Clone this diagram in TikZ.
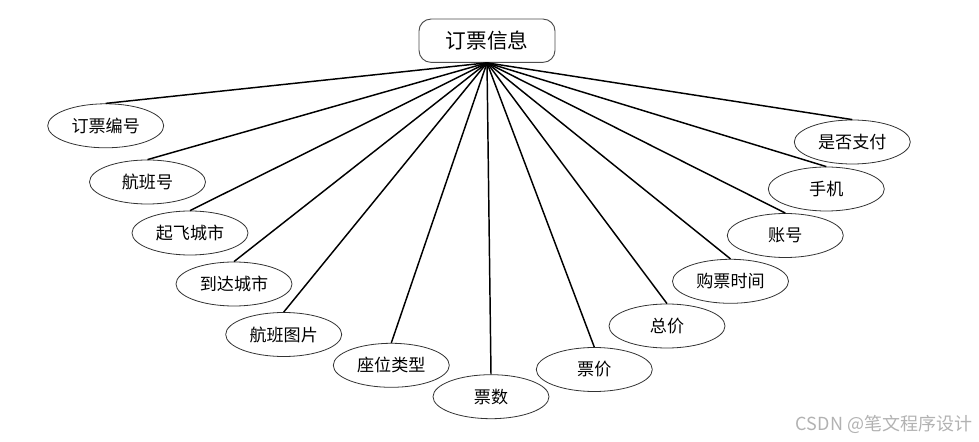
\documentclass[tikz,border=0pt]{standalone}
\usepackage{fontspec}
\setmainfont{Noto Sans CJK SC}
\newfontfamily\cjk{Noto Sans CJK SC}
\newfontfamily\cjkl{Noto Sans CJK SC Light}
\usetikzlibrary{shapes.geometric}
\begin{document}
\begin{tikzpicture}[x=0.75pt,y=-0.75pt,
  attr/.style={ellipse,draw=black!80,line width=0.6pt,fill=white,minimum width=87pt,minimum height=33pt,inner sep=0pt,font=\cjk\fontsize{12.8}{15}\selectfont},
  entity/.style={rectangle,rounded corners=9pt,draw=black!70,line width=0.7pt,fill=white,minimum width=102pt,minimum height=32.5pt,inner sep=0pt,font=\cjk\fontsize{15.5}{18}\selectfont},
  link/.style={line width=1.1pt,black}]
\useasboundingbox (0,0) rectangle (979,442);
\node[entity] (e) at (487,40.7) {订票信息};
\node[attr] (a1) at (105.7,125.8) {订票编号};
\node[attr] (a2) at (147.5,182) {航班号};
\node[attr] (a3) at (190,233) {起飞城市};
\node[attr] (a4) at (234,284) {到达城市};
\node[attr] (a5) at (283.7,334.5) {航班图片};
\node[attr] (a6) at (391.3,365.3) {座位类型};
\node[attr] (a7) at (491,396.7) {票数};
\node[attr] (a8) at (594.3,369.5) {票价};
\node[attr] (a9) at (667,326) {总价};
\node[attr] (a10) at (730.5,281.3) {购票时间};
\node[attr] (a11) at (785.3,235.5) {账号};
\node[attr] (a12) at (826.3,189) {手机};
\node[attr] (a13) at (852.3,142) {是否支付};
\foreach \i in {1,...,13} {\draw[link] (e.south) -- (a\i.north);}
\node[font=\cjk\fontsize{13.5}{16}\selectfont,text=black!30] (wm) at (884,424) {CSDN @笔文程序设计};
\end{tikzpicture}
\end{document}
